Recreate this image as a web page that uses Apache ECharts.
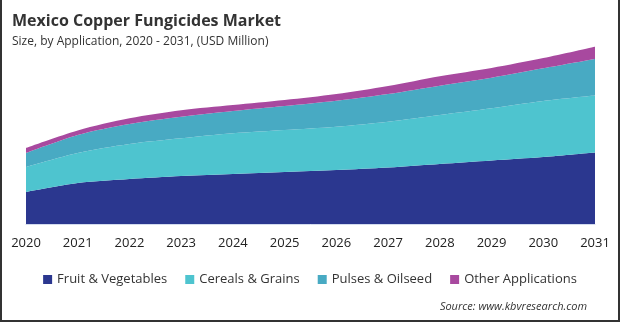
<!DOCTYPE html>
<html>
<head>
<meta charset="utf-8">
<script src="https://cdn.jsdelivr.net/npm/echarts@6/dist/echarts.min.js"></script>
<style>
html,body{margin:0;padding:0;background:#fff;}
#c{width:620px;height:322px;}
</style>
</head>
<body>
<div id="c"></div>
<script>
var years = ['2020','2021','2022','2023','2024','2025','2026','2027','2028','2029','2030','2031'];
var fruitVegetables = [32, 41, 45, 48, 50, 52, 54, 56.5, 60, 63.5, 67, 71.5];
var cerealsGrains   = [25, 30, 35, 37.7, 40.7, 42, 43.3, 45.8, 49, 52.2, 56, 57];
var pulsesOilseed   = [14, 18, 20, 21.6, 22.3, 24, 26, 27.7, 29.3, 30.6, 32.7, 36.5];
var otherApps       = [5, 4.5, 5.7, 6.5, 6, 6, 6.7, 8, 9.5, 9.8, 10.3, 12.3];
var seriesNames = ['Fruit & Vegetables','Cereals & Grains','Pulses & Oilseed','Other Applications'];
var colors = ['#2b378f','#4ec4cf','#48aac3','#a8499f'];

var chart = echarts.init(document.getElementById('c'), null, {renderer:'canvas'});
var font = '"Open Sans", "Noto Sans", sans-serif';
function mk(i, data){
  return {
    name: seriesNames[i], type:'line', stack:'total', data:data,
    smooth:0.3, symbol:'none',
    lineStyle:{width:0},
    areaStyle:{color:colors[i], opacity:1},
    itemStyle:{color:colors[i]}
  };
}
chart.setOption({
  animation:false,
  backgroundColor:'#fff',
  color:colors,
  title:[
    {text:'Mexico Copper Fungicides Market', left:7, top:8,
     textStyle:{fontFamily:font, fontSize:16, fontWeight:'bold', color:'#333'}},
    {text:'Size, by Application, 2020 - 2031, (USD Million)', left:7, top:31,
     textStyle:{fontFamily:font, fontSize:12, fontWeight:'normal', color:'#333'}},
    {text:'Source: www.kbvresearch.com', right:28, top:296,
     textStyle:{fontFamily:font, fontSize:11, fontStyle:'italic', fontWeight:'normal', color:'#333'}}
  ],
  legend:{
    data:seriesNames, top:268, left:'center',
    icon:'rect', itemWidth:9, itemHeight:9, itemGap:18,
    textStyle:{fontFamily:font, fontSize:13, color:'#333'}
  },
  grid:{left:26, right:25, top:44, bottom:98, containLabel:false},
  xAxis:{
    type:'category', data:years, boundaryGap:false,
    axisLine:{show:true, lineStyle:{color:'#d3dbee', width:1}},
    axisTick:{show:false},
    axisLabel:{fontFamily:font, fontSize:13, color:'#222', margin:13, showMinLabel:true, showMaxLabel:true, interval:0}
  },
  yAxis:{type:'value', min:0, max:180, show:false, splitLine:{show:false}},
  series:[mk(0,fruitVegetables), mk(1,cerealsGrains), mk(2,pulsesOilseed), mk(3,otherApps)],
  graphic:[
    {type:'rect', left:0, top:0, shape:{width:2, height:322}, style:{fill:'#333'}},
    {type:'rect', right:0, top:0, shape:{width:2, height:322}, style:{fill:'#333'}},
    {type:'rect', left:0, bottom:0, shape:{width:620, height:2}, style:{fill:'#333'}}
  ]
});
</script>
</body>
</html>
